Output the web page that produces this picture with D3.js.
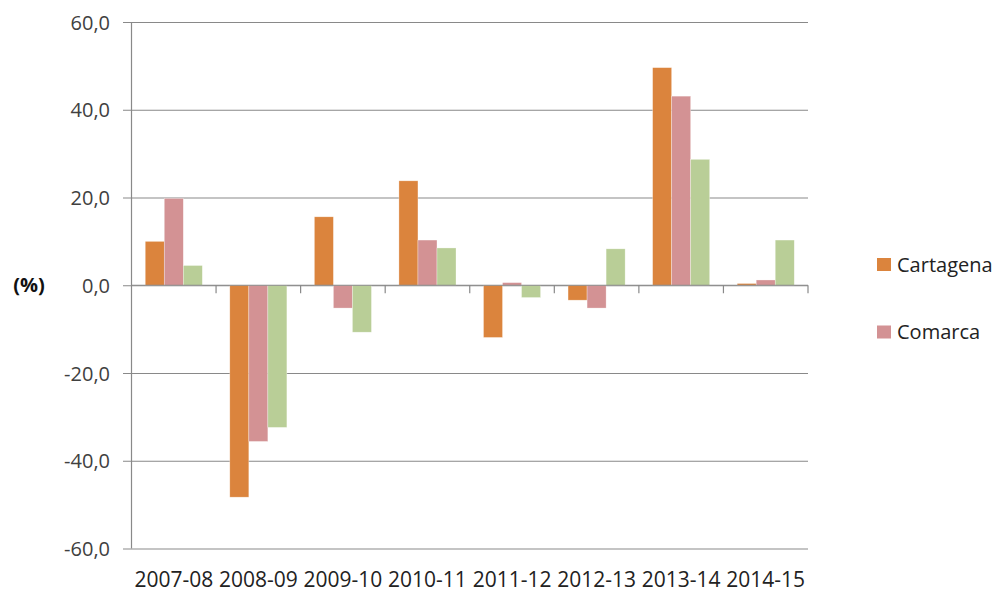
<!DOCTYPE html>
<html>
<head>
<meta charset="utf-8">
<script src="https://cdn.jsdelivr.net/npm/d3@7"></script>
<style>
  html, body { margin: 0; padding: 0; background: #fff; }
  svg { display: block; }
  text { font-family: "Open Sans", "Liberation Sans", sans-serif; }
</style>
</head>
<body>
<svg id="chart" width="999" height="592"></svg>
<script>
// ---- Data ----
const categories = ["2007-08", "2008-09", "2009-10", "2010-11", "2011-12", "2012-13", "2013-14", "2014-15"];
const seriesNames = ["Cartagena", "Comarca", "Región"];
const cartagena = [10.0, -48.3, 15.6, 23.8, -11.9, -3.4, 49.6, 0.4];
const comarca   = [19.8, -35.6, -5.2, 10.3, 0.6, -5.2, 43.1, 1.2];
const region    = [4.5, -32.4, -10.7, 8.5, -2.8, 8.3, 28.7, 10.3];
const yTicks = [-60, -40, -20, 0, 20, 40, 60];
const legendNames = ["Cartagena", "Comarca"];

const seriesValues = [cartagena, comarca, region];
const colors = ["#DB843D", "#D39294", "#B9CE97"];

const svg = d3.select("#chart");
const pLeft = 131.5, pRight = 808, pTop = 22, pBottom = 548.5;

const y = d3.scaleLinear().domain([-60, 60]).range([pBottom, pTop]);
const x = d3.scaleBand().domain(categories).range([pLeft, pRight])
  .paddingInner(0.325).paddingOuter(0.1625);
const xs = d3.scaleBand().domain(seriesNames).range([0, x.bandwidth()]);

// gridlines + y axis
const yAxis = d3.axisLeft(y).tickValues(yTicks)
  .tickSize(-(pRight - pLeft))
  .tickFormat(d => d3.format(".1f")(d).replace(".", ",").replace("−", "-"));
const gy = svg.append("g").attr("transform", `translate(${pLeft},0)`).call(yAxis);
gy.select(".domain").remove();
gy.selectAll(".tick line").attr("stroke", "#898989").attr("stroke-width", 1.2)
  .attr("x1", -8.5);
gy.selectAll(".tick text").attr("x", -21.5).attr("fill", "#404040")
  .attr("font-size", 20).attr("dy", "0.36em");
svg.append("line").attr("x1", pLeft).attr("x2", pLeft).attr("y1", pTop).attr("y2", pBottom)
  .attr("stroke", "#898989").attr("stroke-width", 1.2);

// bars
const groups = svg.append("g").selectAll("g").data(categories).join("g")
  .attr("transform", d => `translate(${x(d)},0)`);
groups.selectAll("rect")
  .data((c, i) => seriesNames.map((s, k) => ({ s, k, v: seriesValues[k][i] })))
  .join("rect")
  .attr("x", d => xs(d.s))
  .attr("width", xs.bandwidth())
  .attr("y", d => y(Math.max(0, d.v)))
  .attr("height", d => Math.abs(y(d.v) - y(0)))
  .attr("fill", d => colors[d.k])
  .attr("stroke", "#ffffff").attr("stroke-opacity", 0.5).attr("stroke-width", 0.6);

// zero-line category axis with ticks between categories
const step = x.step();
const boundaries = categories.map((c, i) => pLeft + step * (i + 1));
svg.append("line").attr("x1", pLeft).attr("x2", pRight).attr("y1", y(0)).attr("y2", y(0))
  .attr("stroke", "#898989").attr("stroke-width", 1.2);
svg.append("g").selectAll("line").data(boundaries).join("line")
  .attr("x1", d => d).attr("x2", d => d)
  .attr("y1", y(0)).attr("y2", y(0) + 8)
  .attr("stroke", "#898989").attr("stroke-width", 1.2);

// category labels at bottom
svg.append("g").selectAll("text").data(categories).join("text")
  .attr("x", d => x(d) + x.bandwidth() / 2)
  .attr("y", 587)
  .attr("text-anchor", "middle")
  .attr("fill", "#222")
  .attr("font-size", 21)
  .text(d => d);

// y axis title
svg.append("text").attr("x", 29).attr("y", y(0)).attr("dy", "0.36em")
  .attr("text-anchor", "middle").attr("font-weight", "bold").attr("font-size", 20)
  .attr("fill", "#111").text("(%)");

// legend
const legY = [264.5, 332];
const leg = svg.append("g").selectAll("g").data(legendNames).join("g")
  .attr("transform", (d, i) => `translate(877,${legY[i]})`);
leg.append("rect").attr("x", 0).attr("y", -6.5).attr("width", 14).attr("height", 13)
  .attr("fill", (d, i) => colors[i]);
leg.append("text").attr("x", 20).attr("y", 0).attr("dy", "0.36em")
  .attr("font-size", 20).attr("fill", "#222").text(d => d);
</script>
</body>
</html>
